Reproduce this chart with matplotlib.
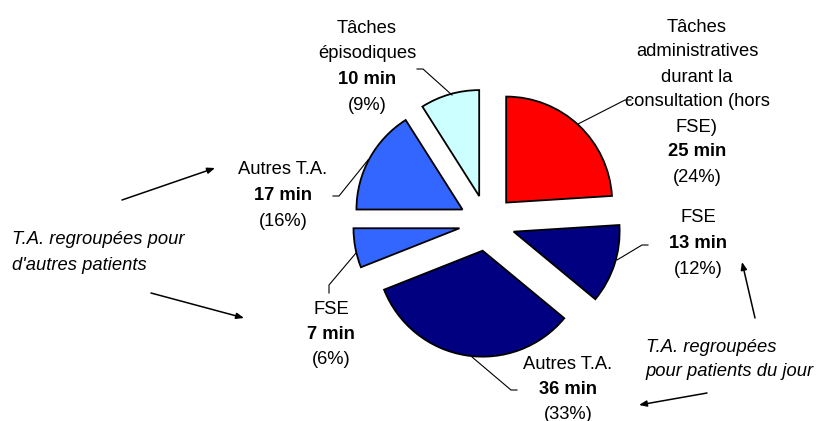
import matplotlib
matplotlib.use("Agg")
from matplotlib import pyplot as plt

plt.rcParams['font.family'] = ['Liberation Sans', 'DejaVu Sans']

# data, clockwise from 12 o'clock
names = [
    ["Tâches", "administratives", "durant la", "consultation (hors", "FSE)"],
    ["FSE"],
    ["Autres T.A."],
    ["FSE"],
    ["Autres T.A."],
    ["Tâches", "épisodiques"],
]
minutes = [25, 13, 36, 7, 17, 10]
percents = [24, 12, 33, 6, 16, 9]
colors = ['#FF0000', '#000080', '#000080', '#3366FF', '#3366FF', '#CCFFFF']

W, H = 820, 421
fig = plt.figure(figsize=(W / 100, H / 100), dpi=100)
ax = fig.add_axes([0, 0, 1, 1])

def py(y):
    # pixel row (top=0) -> data y
    return H - y

radius = 106
ax.pie(percents, colors=colors, startangle=90, counterclock=False,
       radius=radius, center=(487, py(223)), explode=[28] * 6,
       wedgeprops=dict(edgecolor='black', linewidth=1.3))

# label layout: centre x, first line y, line step (pixels)
label_pos = [(697, 27, 25), (698, 218, 26), (568, 365, 25),
             (331, 309, 25.5), (283, 170, 26), (367, 28, 25.7)]
fs = 13.2
for nm, m, p, (lx, ly, step) in zip(names, minutes, percents, label_pos):
    lines = [(s, 'normal') for s in nm] + [(f"{m} min", 'bold'), (f"({p}%)", 'normal')]
    for i, (s, w) in enumerate(lines):
        ax.text(lx, py(ly + i * step), s, ha='center', va='center',
                fontsize=fs, fontweight=w, color='black')

# leader lines
leaders = [
    [(631, 100), (625, 100), (578, 124)],
    [(648, 245), (642, 245), (617, 260)],
    [(517, 390), (511, 390), (472, 357)],
    [(329, 293), (329, 285), (356, 253)],
    [(333, 196), (339, 196), (368, 160)],
    [(417, 69), (423, 69), (452, 95)],
]
for pts in leaders:
    ax.plot([p[0] for p in pts], [py(p[1]) for p in pts], color='black', lw=0.8)

# italic annotations with arrows
ax.text(12, py(240), "T.A. regroupées pour", fontsize=fs, style='italic',
        ha='left', va='center')
ax.text(12, py(266), "d'autres patients", fontsize=fs, style='italic',
        ha='left', va='center')
ax.text(646, py(348), "T.A. regroupées", fontsize=fs, style='italic',
        ha='left', va='center')
ax.text(645, py(372), "pour patients du jour", fontsize=fs, style='italic',
        ha='left', va='center')

arrows = [
    ((122, 200), (215, 168)),
    ((151, 293), (244, 318)),
    ((755, 318), (742, 262)),
    ((707, 393), (639, 405)),
]
for (x0, y0), (x1, y1) in arrows:
    ax.annotate("", xy=(x1, py(y1)), xytext=(x0, py(y0)),
                arrowprops=dict(arrowstyle='-|>,head_length=0.45,head_width=0.18',
                                color='black', lw=1.1, shrinkA=0, shrinkB=0))

ax.set_xlim(0, W)
ax.set_ylim(0, H)
ax.set_aspect('equal')
ax.axis('off')

plt.savefig('out.png', dpi=100)
